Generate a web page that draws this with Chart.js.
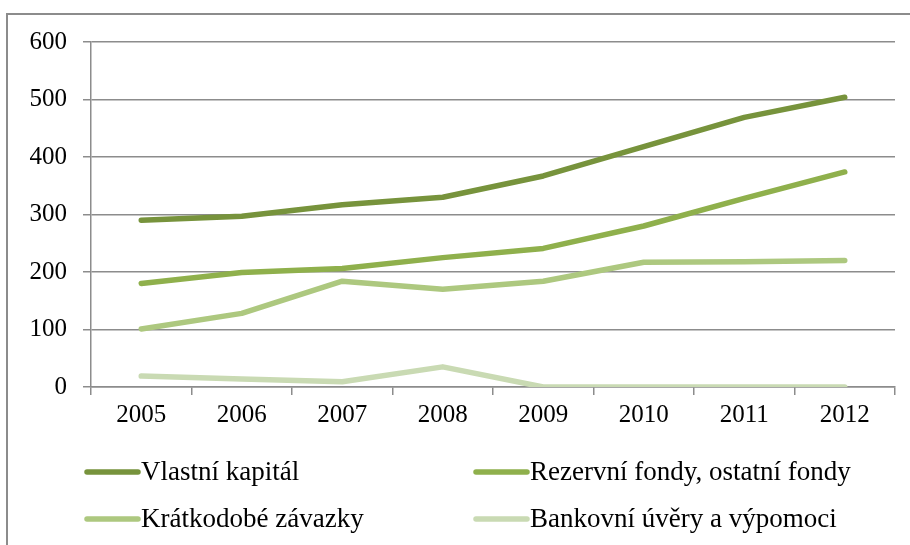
<!DOCTYPE html>
<html>
<head>
<meta charset="utf-8">
<script src="https://cdn.jsdelivr.net/npm/chart.js@4.4.1/dist/chart.umd.min.js"></script>
<style>
  body { margin: 0; background: #fff; }
  #wrap { position: relative; width: 910px; height: 545px; overflow: hidden; }
  #frame { position: absolute; left: 6px; top: 13px; width: 1000px; height: 1000px;
           border-left: 2px solid #8c8c8c; border-top: 2px solid #8c8c8c; }
  canvas { position: absolute; left: 0; top: 0; }
</style>
</head>
<body>
<div id="wrap">
  <div id="frame"></div>
  <canvas id="chart" width="910" height="545"></canvas>
</div>
<script>
// roky a hodnoty
var years = ['2005', '2006', '2007', '2008', '2009', '2010', '2011', '2012'];
var vlastniKapital = [290, 297, 317, 330, 367, 418, 469, 504];
var rezervniFondy = [180, 199, 206, 225, 241, 280, 328, 374];
var kratkodobeZavazky = [101, 128, 184, 170, 184, 217, 218, 220];
var bankovniUvery = [19, 14, 9, 35, 0, 0, 0, 0];
var yTicks = [0, 100, 200, 300, 400, 500, 600];

var font = "'Liberation Serif', 'Times New Roman', serif";
var gridColor = '#8c8c8c';

function serie(label, data, color) {
    return {
        label: label,
        data: data,
        borderColor: color,
        backgroundColor: color,
        borderWidth: 5.5,
        pointRadius: 0,
        tension: 0,
        borderCapStyle: 'round',
        borderJoinStyle: 'round'
    };
}

// legenda ve dvou sloupcích pod grafem
var legendPlugin = {
    id: 'legendaDole',
    afterDraw: function(chart) {
        var ctx = chart.ctx;
        var cols = [84, 473];
        var rows = [472, 519];
        ctx.save();
        ctx.font = '27px ' + font;
        ctx.textBaseline = 'middle';
        ctx.fillStyle = '#000';
        chart.data.datasets.forEach(function(ds, i) {
            var x = cols[i % 2];
            var y = rows[Math.floor(i / 2)];
            ctx.strokeStyle = ds.borderColor;
            ctx.lineWidth = 5.5;
            ctx.lineCap = 'round';
            ctx.beginPath();
            ctx.moveTo(x + 3, y);
            ctx.lineTo(x + 54, y);
            ctx.stroke();
            ctx.fillText(ds.label, x + 57, y + 1);
        });
        ctx.restore();
    }
};

var ctx = document.getElementById('chart').getContext('2d');
new Chart(ctx, {
    type: 'line',
    data: {
        labels: years,
        datasets: [
            serie('Vlastní kapitál', vlastniKapital, '#77933c'),
            serie('Rezervní fondy, ostatní fondy', rezervniFondy, '#8fb04c'),
            serie('Krátkodobé závazky', kratkodobeZavazky, '#adc87f'),
            serie('Bankovní úvěry a výpomoci', bankovniUvery, '#c9dab3')
        ]
    },
    options: {
        responsive: false,
        animation: false,
        layout: { padding: { top: 42, right: 15, left: 0, bottom: 0 } },
        plugins: {
            legend: { display: false },
            tooltip: { enabled: false }
        },
        scales: {
            x: {
                offset: true,
                grid: {
                    offset: true,
                    drawOnChartArea: false,
                    drawTicks: true,
                    tickLength: 8,
                    color: gridColor,
                    lineWidth: 1.5
                },
                border: { color: gridColor, width: 1.5 },
                ticks: { color: '#000', font: { family: font, size: 25 }, padding: 5, maxRotation: 0 },
                afterFit: function(scale) { scale.height = 545 - 387; }
            },
            y: {
                min: 0,
                max: 600,
                afterBuildTicks: function(scale) {
                    scale.ticks = yTicks.map(function(v) { return { value: v }; });
                },
                grid: {
                    color: gridColor,
                    lineWidth: 1.5,
                    drawTicks: true,
                    tickLength: 8
                },
                border: { color: gridColor, width: 1.5 },
                ticks: { color: '#000', font: { family: font, size: 25 }, padding: 16 },
                afterFit: function(scale) { scale.width = 91; }
            }
        }
    },
    plugins: [legendPlugin]
});
</script>
</body>
</html>
